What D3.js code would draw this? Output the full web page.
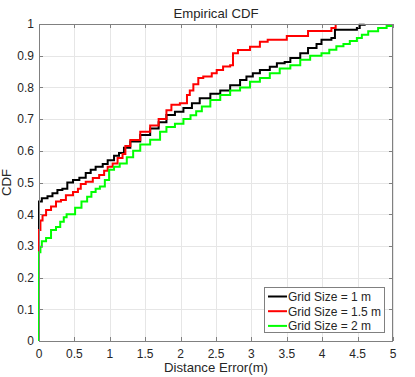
<html>
<head>
<script src="https://d3js.org/d3.v7.min.js"></script>
<style>
  body { margin: 0; background: #fff; }
  text { font-family: "Liberation Sans", Arial, sans-serif; fill: #262626; }
</style>
</head>
<body>
<svg id="MAINSVG" width="415" height="377"></svg>
<script>

var xTicks = [0, 0.5, 1, 1.5, 2, 2.5, 3, 3.5, 4, 4.5, 5];
var yTicks = [0, 0.1, 0.2, 0.3, 0.4, 0.5, 0.6, 0.7, 0.8, 0.9, 1];

var seriesNames = ["Grid Size = 1 m", "Grid Size = 1.5 m", "Grid Size = 2 m"];
var seriesColors = ["#000000", "#ff0000", "#00ff00"];

// step points (x where each step starts, y after it)
var x_1m = [0, 0, 0.04, 0.12, 0.19, 0.26, 0.33, 0.40, 0.48, 0.57, 0.66, 0.73, 0.80, 0.90, 0.97, 1.06, 1.13, 1.20, 1.29, 1.43, 1.57, 1.69, 1.80, 1.92, 2.04, 2.16, 2.27, 2.42, 2.56, 2.70, 2.84, 2.93, 3.02, 3.12, 3.26, 3.36, 3.47, 3.55, 3.69, 3.80, 3.92, 3.99, 4.13, 4.18, 4.49, 4.53, 4.60];
var y_1m = [0, 0.44, 0.45, 0.457, 0.466, 0.476, 0.48, 0.50, 0.508, 0.515, 0.53, 0.54, 0.55, 0.558, 0.57, 0.584, 0.593, 0.61, 0.629, 0.65, 0.67, 0.69, 0.713, 0.723, 0.735, 0.75, 0.766, 0.78, 0.79, 0.807, 0.823, 0.834, 0.845, 0.855, 0.865, 0.876, 0.88, 0.893, 0.908, 0.924, 0.937, 0.95, 0.956, 0.982, 0.987, 0.998, 1.0];

var x_15m = [0, 0, 0.02, 0.05, 0.10, 0.17, 0.24, 0.31, 0.38, 0.48, 0.55, 0.59, 0.66, 0.76, 0.85, 0.92, 0.97, 1.04, 1.11, 1.18, 1.22, 1.29, 1.43, 1.57, 1.69, 1.80, 1.87, 1.99, 2.09, 2.13, 2.18, 2.25, 2.32, 2.44, 2.51, 2.60, 2.70, 2.74, 2.81, 2.98, 3.12, 3.23, 3.50, 3.80, 4.13, 4.19];
var y_15m = [0, 0.35, 0.38, 0.397, 0.413, 0.424, 0.44, 0.445, 0.46, 0.47, 0.48, 0.495, 0.502, 0.514, 0.524, 0.537, 0.55, 0.56, 0.577, 0.59, 0.615, 0.634, 0.66, 0.68, 0.70, 0.728, 0.745, 0.75, 0.776, 0.79, 0.81, 0.83, 0.834, 0.845, 0.855, 0.866, 0.87, 0.908, 0.918, 0.928, 0.944, 0.95, 0.962, 0.978, 0.987, 1.0];

var x_2m = [0, 0, 0.02, 0.04, 0.10, 0.17, 0.24, 0.30, 0.35, 0.39, 0.51, 0.60, 0.68, 0.74, 0.80, 0.86, 0.93, 0.99, 1.06, 1.14, 1.24, 1.33, 1.43, 1.57, 1.71, 1.80, 1.92, 2.04, 2.14, 2.22, 2.30, 2.42, 2.56, 2.70, 2.84, 2.98, 3.12, 3.26, 3.40, 3.55, 3.69, 3.83, 3.99, 4.10, 4.20, 4.30, 4.39, 4.49, 4.56, 4.65, 4.79, 4.91, 4.98];
var y_2m = [0, 0.28, 0.297, 0.315, 0.325, 0.35, 0.36, 0.376, 0.39, 0.40, 0.42, 0.44, 0.455, 0.47, 0.48, 0.487, 0.508, 0.54, 0.55, 0.56, 0.58, 0.60, 0.62, 0.635, 0.66, 0.675, 0.685, 0.70, 0.712, 0.725, 0.74, 0.76, 0.776, 0.79, 0.80, 0.818, 0.83, 0.845, 0.86, 0.87, 0.887, 0.90, 0.908, 0.919, 0.93, 0.937, 0.946, 0.956, 0.966, 0.977, 0.987, 0.994, 1.0];

var SVG = d3.select("#MAINSVG");

var left = 39, right = 393, top_ = 24, bottom = 341;

var xScale = d3.scaleLinear().domain([0, 5]).range([left, right]);
var yScale = d3.scaleLinear().domain([0, 1]).range([bottom, top_]);

SVG.append("rect").attr("x", 0).attr("y", 0).attr("width", 415).attr("height", 377).attr("fill", "#fff");

// grid
xTicks.forEach(function(t) {
  SVG.append("line")
    .attr("x1", Math.round(xScale(t)) + 0.5).attr("x2", Math.round(xScale(t)) + 0.5)
    .attr("y1", top_).attr("y2", bottom)
    .attr("stroke", "#e6e6e6").attr("stroke-width", 1);
});
yTicks.forEach(function(t) {
  SVG.append("line")
    .attr("x1", left).attr("x2", right)
    .attr("y1", Math.round(yScale(t)) + 0.5).attr("y2", Math.round(yScale(t)) + 0.5)
    .attr("stroke", "#e6e6e6").attr("stroke-width", 1);
});

// curves
var series = [
  {xs: x_1m, ys: y_1m},
  {xs: x_15m, ys: y_15m},
  {xs: x_2m, ys: y_2m}
];
var line = d3.line()
  .x(function(d) { return xScale(d[0]); })
  .y(function(d) { return yScale(d[1]); })
  .curve(d3.curveStepAfter);

series.forEach(function(s, i) {
  var pts = s.xs.map(function(x, j) { return [x, s.ys[j]]; });
  SVG.append("path")
    .attr("d", line(pts))
    .attr("fill", "none")
    .attr("stroke", seriesColors[i])
    .attr("stroke-width", 2);
});

// axes box and inward ticks
var axisColor = "#808080";
SVG.append("rect")
  .attr("x", left + 0.5).attr("y", top_ + 0.5)
  .attr("width", right - left - 1).attr("height", bottom - top_)
  .attr("fill", "none").attr("stroke", axisColor).attr("stroke-width", 1);

var tickLen = 4;
xTicks.forEach(function(t) {
  var px = Math.round(xScale(t)) + 0.5;
  SVG.append("line").attr("x1", px).attr("x2", px).attr("y1", bottom).attr("y2", bottom - tickLen)
    .attr("stroke", axisColor);
  SVG.append("line").attr("x1", px).attr("x2", px).attr("y1", top_).attr("y2", top_ + tickLen)
    .attr("stroke", axisColor);
  SVG.append("text")
    .attr("x", xScale(t)).attr("y", bottom + 16.5)
    .attr("text-anchor", "middle")
    .style("font-size", "12px")
    .text(d3.format("")(t));
});
yTicks.forEach(function(t) {
  var py = Math.round(yScale(t)) + 0.5;
  SVG.append("line").attr("x1", left).attr("x2", left + tickLen).attr("y1", py).attr("y2", py)
    .attr("stroke", axisColor);
  SVG.append("line").attr("x1", right).attr("x2", right - tickLen).attr("y1", py).attr("y2", py)
    .attr("stroke", axisColor);
  SVG.append("text")
    .attr("x", left - 5).attr("y", yScale(t) + 4.3)
    .attr("text-anchor", "end")
    .style("font-size", "12px")
    .text(d3.format("")(t));
});

// labels
SVG.append("text")
  .attr("x", (left + right) / 2).attr("y", 18)
  .attr("text-anchor", "middle")
  .style("font-size", "13.2px")
  .text("Empirical CDF");
SVG.append("text")
  .attr("x", (left + right) / 2).attr("y", 372)
  .attr("text-anchor", "middle")
  .style("font-size", "13.2px")
  .text("Distance Error(m)");
SVG.append("text")
  .attr("transform", "translate(11," + ((top_ + bottom) / 2) + ") rotate(-90)")
  .attr("text-anchor", "middle")
  .style("font-size", "13.2px")
  .text("CDF");

// legend
var lg = SVG.append("g");
lg.append("rect")
  .attr("x", 264.5).attr("y", 287.5).attr("width", 120).attr("height", 45)
  .attr("fill", "#fff").attr("stroke", axisColor).attr("stroke-width", 1);
seriesNames.forEach(function(name, i) {
  var cy = 296.5 + i * 14.7;
  lg.append("line")
    .attr("x1", 268).attr("x2", 287).attr("y1", cy).attr("y2", cy)
    .attr("stroke", seriesColors[i]).attr("stroke-width", 2);
  lg.append("text")
    .attr("x", 288).attr("y", cy + 4.3)
    .style("font-size", "12px")
    .text(name);
});

</script>
</body>
</html>
